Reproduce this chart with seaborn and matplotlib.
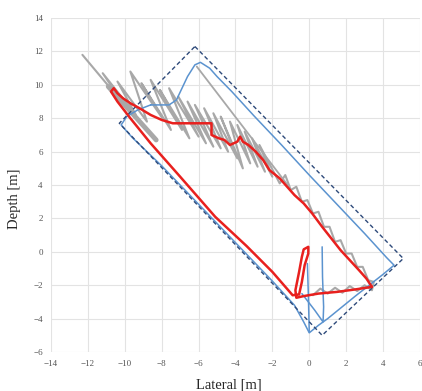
import matplotlib
matplotlib.use("Agg")
import matplotlib.pyplot as plt
import seaborn as sns
import pandas as pd

# ==========================
#  DATA
# ==========================
# dashed boundary box
box_x = [-6.2, 5.1, 0.7, -10.3, -6.2]
box_y = [12.3, -0.4, -5.0, 7.7, 12.3]

# blue outline (closed loop)
blue_x = [-8.6, -9.3, -9.9, -10.2, -9.6, -8.0, -6.0, -4.0, -2.0, -0.8, -0.3, 0.0,
          0.5, 1.0, 2.5, 4.0, 4.6, 4.2, 3.0, 1.5, 0.0, -1.5, -3.0, -4.2, -5.0,
          -5.4, -5.9, -6.2, -6.6, -6.9, -7.2, -7.6, -8.6]
blue_y = [8.8, 8.5, 8.1, 7.6, 6.85, 5.15, 2.85, 0.55, -1.75, -3.2, -4.2, -4.85,
          -4.4, -4.0, -2.65, -1.35, -0.8, -0.35, 1.1, 2.85, 4.6, 6.4, 8.15, 9.6, 10.5,
          11.0, 11.35, 11.2, 10.5, 9.8, 9.1, 8.8, 8.8]

# blue inner lines near the bottom
blue2_x = [0.7, 0.72, 0.78, 0.75, 0.3, -0.4]
blue2_y = [0.3, -1.5, -3.3, -4.2, -3.5, -2.5]
blue3_x = [-0.1, -0.05, 0.0]
blue3_y = [-0.7, -2.5, -4.8]

# red trajectory
red_x = [3.4, 2.5, 1.5, 0.5, -0.3, -0.7, -0.75, -0.55, -0.4, -0.3, -0.05, -0.05,
         -0.25, -0.4, -0.55, -0.9, -2.0, -3.4, -5.1, -7.0, -8.6, -9.7, -10.4,
         -10.75, -10.6, -10.4, -10.1, -9.7, -9.2, -8.6, -8.0, -7.4, -6.4, -5.3,
         -5.3, -4.9, -4.6, -4.3, -3.9, -3.75, -3.6, -3.3, -2.9, -2.5, -2.16,
         -1.6, -1.2, -0.8, -0.3, 0.16, 0.7, 1.2, 1.7, 2.2, 2.7, 3.1, 3.4]
red_y = [-2.1, -2.25, -2.4, -2.5, -2.65, -2.75, -2.3, -1.2, -0.3, 0.15, 0.3, -0.1,
         -0.8, -1.8, -2.55, -2.6, -1.2, 0.35, 2.1, 4.5, 6.5, 8.0, 9.0,
         9.6, 9.8, 9.5, 9.2, 8.9, 8.6, 8.2, 7.9, 7.7, 7.7, 7.7,
         7.0, 6.8, 6.7, 6.4, 6.6, 6.9, 6.6, 6.4, 6.0, 5.5, 4.9,
         4.4, 3.9, 3.4, 2.9, 2.3, 1.5, 0.8, 0.1, -0.5, -1.1, -1.6, -2.1]

# grey saw-tooth trace (tip, base, tip, base, ...) then small teeth
grey_x = [-12.3, -10.1, -11.2, -9.4, -10.4, -8.8, -9.7, -7.9, -9.1, -7.5, -8.6, -6.9,
          -8.1, -6.5, -7.6, -6.0, -7.1, -5.6, -6.6, -5.2, -6.2, -4.8, -5.7, -4.4,
          -5.2, -3.9, -4.8, -3.6, -4.3, -3.2, -3.9, -2.8, -3.5, -2.4, -3.1, -2.0,
          -2.7, -1.6,
          -1.3, -1.0, -0.7, -0.4, -0.1, 0.2, 0.5, 0.8, 1.1, 1.4, 1.7, 2.0, 2.3,
          2.6, 2.9, 3.2, 3.5,
          3.4, 3.0, 2.6, 2.2, 1.8, 1.4, 1.0, 0.6, 0.2]
grey_y = [11.8, 8.9, 10.7, 8.2, 10.2, 7.8, 10.8, 7.9, 10.1, 7.3, 10.3, 7.3,
          9.7, 6.8, 9.8, 6.9, 9.3, 6.5, 9.0, 6.3, 8.8, 6.2, 8.6, 6.0,
          8.3, 5.6, 8.1, 5.0, 7.8, 5.3, 7.6, 5.1, 7.2, 4.8, 6.8, 4.5,
          6.4, 4.1,
          4.6, 3.7, 3.9, 3.0, 3.1, 2.3, 2.4, 1.5, 1.5, 0.6, 0.7, -0.1, -0.1,
          -0.9, -0.9, -1.7, -1.8,
          -2.3, -2.0, -2.35, -2.05, -2.45, -2.15, -2.5, -2.2, -2.6]
grey2_x = [-6.1, -1.1]
grey2_y = [11.1, 3.9]
grey3_x = [-10.9, -8.3]
grey3_y = [9.9, 6.7]

x_ticks = list(range(-14, 7, 2))
y_ticks = list(range(-6, 15, 2))

# ==========================
#  PLOT
# ==========================
sns.set_style("white")
plt.rcParams["font.family"] = ["Liberation Serif", "DejaVu Serif"]

fig = plt.figure(figsize=(4.22, 3.91), dpi=100)
ax = fig.add_axes([0.121, 0.0997, 0.874, 0.854])

def path(xs, ys, **kw):
    df = pd.DataFrame({"x": xs, "y": ys})
    sns.lineplot(data=df, x="x", y="y", sort=False, estimator=None, ax=ax, **kw)

grey = "#a8a8a8"
path(grey_x, grey_y, color=grey, lw=1.5)
path(grey2_x, grey2_y, color=grey, lw=1.3)
path(grey3_x, grey3_y, color=grey, lw=3.5)

blue = "#5b93cf"
path(blue_x, blue_y, color=blue, lw=1.1)
path(blue2_x, blue2_y, color=blue, lw=1.1)
path(blue3_x, blue3_y, color=blue, lw=1.1)

path(box_x, box_y, color="#2e4a7a", lw=1.0, linestyle=(0, (3, 2)))

path(red_x, red_y, color="#e8201e", lw=1.8)

ax.set_xlim(-14, 6)
ax.set_ylim(-6, 14)
ax.set_xticks(x_ticks)
ax.set_yticks(y_ticks)
ax.grid(True, color="#e3e3e3", lw=0.8)
ax.set_axisbelow(True)
for s in ax.spines.values():
    s.set_visible(False)
ax.tick_params(length=0, labelsize=6.5, colors="#555555", pad=6)

ax.set_xlabel("Lateral [m]", fontsize=10.5)
ax.set_ylabel("Depth [m]", fontsize=10.5)
ax.xaxis.set_label_coords(0.482, -0.078)
ax.yaxis.set_label_coords(-0.082, 0.46)

plt.savefig("out.png", dpi=100)
